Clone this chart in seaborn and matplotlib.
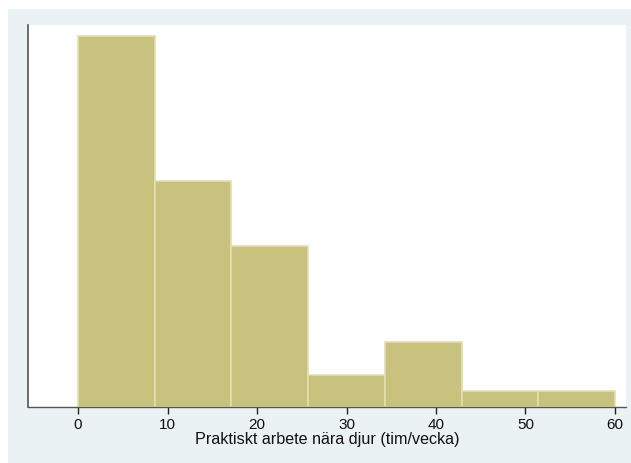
import numpy as np
import pandas as pd
import matplotlib
matplotlib.use("Agg")
import matplotlib.pyplot as plt
import seaborn as sns
from matplotlib.patches import Rectangle

# Data
bin_edges = [0, 60/7, 120/7, 180/7, 240/7, 300/7, 360/7, 60]
counts = [23, 14, 10, 2, 4, 1, 1]
xticks = [0, 10, 20, 30, 40, 50, 60]
xlabel = "Praktiskt arbete nära djur (tim/vecka)"

centers = [(bin_edges[i] + bin_edges[i + 1]) / 2 for i in range(len(counts))]
df = pd.DataFrame({"x": centers, "w": counts})

sns.set_theme(style="white")
plt.rcParams['font.family'] = ['Liberation Sans', 'DejaVu Sans']

W, H = 631, 463
fig = plt.figure(figsize=(W / 100, H / 100), dpi=100)
fig.patch.set_facecolor("white")
bg = Rectangle((8 / W, 0), 1 - 8 / W, 1 - 9 / H, transform=fig.transFigure,
               facecolor="#EAF2F3", edgecolor="none", zorder=-10)
fig.patches.append(bg)

ax = fig.add_axes([28 / W, (H - 407) / H, (626 - 28) / W, (407 - 25) / H])
ax.set_zorder(1)
ax.set_facecolor("white")

sns.histplot(data=df, x="x", weights="w", bins=bin_edges, ax=ax,
             color="#C9C27F", edgecolor="#E3DFB0", linewidth=1.2, alpha=1)

ax.set_xlim(-5.59, 61.23)
ax.set_ylim(0, 23.68)
ax.set_xticks(xticks)
ax.set_xticklabels([str(t) for t in xticks], fontsize=11, color="#111111")
ax.set_yticks([])
ax.set_ylabel("")
ax.set_xlabel(xlabel, fontsize=11.6, color="#111111", labelpad=0)
ax.tick_params(axis="x", direction="out", length=5, width=1, color="#222222", pad=3, bottom=True)

for s in ["top", "right"]:
    ax.spines[s].set_visible(False)
ax.spines["left"].set_color("#555555")
ax.spines["left"].set_linewidth(1.2)
ax.spines["bottom"].set_color("#555555")
ax.spines["bottom"].set_linewidth(1.0)

fig.savefig("out.png", dpi=100)
